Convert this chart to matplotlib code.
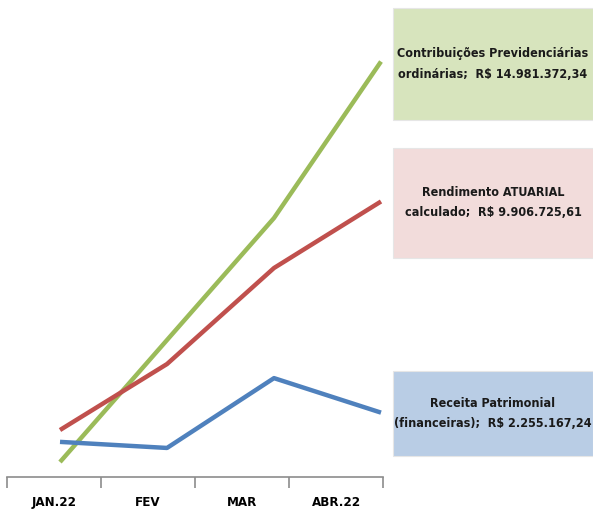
import matplotlib.pyplot as plt
from matplotlib.patches import Rectangle

months = ["JAN.22", "FEV", "MAR", "ABR.22"]
# values in R$ millions (last point matches the labels)
contrib = [0.47, 4.89, 9.31, 14.98]
rendimento = [1.63, 4.02, 7.50, 9.91]
receita = [1.20, 0.98, 3.51, 2.26]

labels = ["Contribuições Previdenciárias\nordinárias;  R$ 14.981.372,34",
          "Rendimento ATUARIAL\ncalculado;  R$ 9.906.725,61",
          "Receita Patrimonial\n(financeiras);  R$ 2.255.167,24"]

colors = ["#9BBB59", "#C0504D", "#4F81BD"]
box_colors = ["#D7E4BD", "#F2DCDB", "#B9CDE5"]

plt.rcParams['font.family'] = ['DejaVu Sans']
plt.rcParams['font.stretch'] = 'condensed'

W, H = 593, 512
fig = plt.figure(figsize=(W / 100, H / 100), dpi=100)

# category axis (labels + baseline)
ax = fig.add_axes([7 / W, 35 / H, 376 / W, 0.001])
ax.set_xlim(-0.5, 3.5)
ax.set_ylim(0, 1)
for s in ['top', 'left', 'right']:
    ax.spines[s].set_visible(False)
ax.spines['bottom'].set_color('#8c8c8c')
ax.spines['bottom'].set_linewidth(1.2)
ax.set_yticks([])
ax.set_xticks([-0.5, 0.5, 1.5, 2.5, 3.5])
ax.set_xticklabels([])
ax.set_xticks(range(len(months)), minor=True)
ax.set_xticklabels(months, minor=True, fontweight='bold', fontsize=9.5)
ax.tick_params(axis='x', which='major', length=8, width=1.2, color='#8c8c8c', direction='out')
ax.tick_params(axis='x', which='minor', length=0, pad=14)

# line layer
ax2 = fig.add_axes([6.5 / W, 37 / H, 428 / W, 441.6 / H])
ax2.set_xlim(-0.5, 3.5)
ax2.set_ylim(0, 16)
ax2.axis('off')
x = range(len(months))
for vals, c in zip([contrib, rendimento, receita], colors):
    ax2.plot(x, vals, color=c, linewidth=3.2, solid_capstyle='butt', zorder=3)

# label boxes
boxes = [(8, 120), (148, 258), (371, 456)]
for (top, bottom), lab, bc in zip(boxes, labels, box_colors):
    fig.patches.append(Rectangle((393 / W, 1 - bottom / H), 200 / W, (bottom - top) / H,
                                 transform=fig.transFigure, facecolor=bc,
                                 edgecolor='#e6e6e6', linewidth=0.8))
    fig.text(493 / W, 1 - (top + bottom) / 2 / H, lab, ha='center', va='center',
             fontsize=9, fontweight='bold', linespacing=1.7, color='#1a1a1a')

fig.savefig("out.png", dpi=100)
